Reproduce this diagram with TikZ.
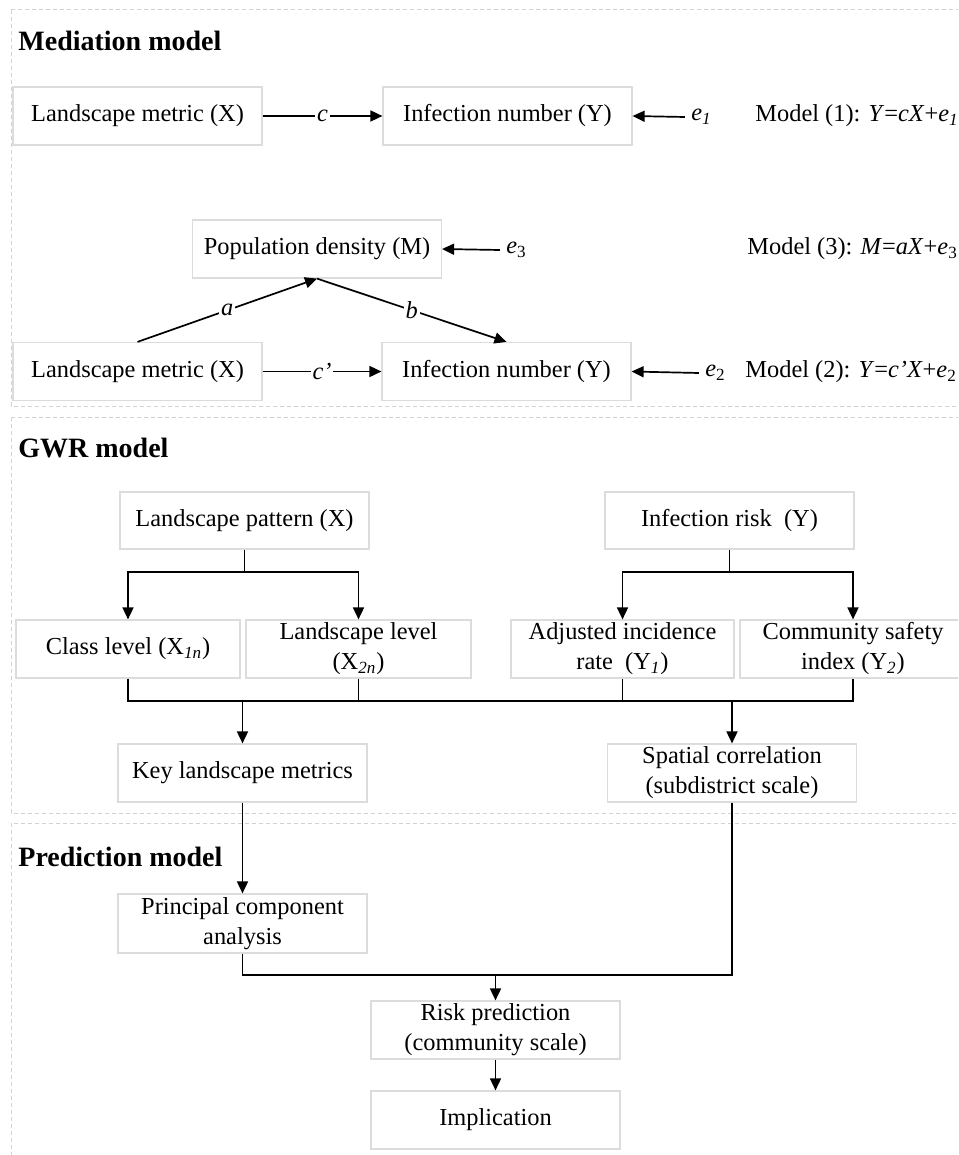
\documentclass[tikz,border=0pt]{standalone}
\usepackage{fontspec}
\setmainfont{Liberation Serif}
\usetikzlibrary{arrows.meta}
\definecolor{boxgray}{HTML}{DCDCDC}
\definecolor{framegray}{HTML}{D2D2D2}
\begin{document}
\begin{tikzpicture}[x=0.5pt,y=-0.5pt,
  txt/.style={font=\fontsize{12.2}{15}\selectfont},
  box/.style={txt,draw=boxgray,line width=0.6pt,align=center,inner sep=0pt,
    minimum width=124.5pt,minimum height=29pt},
  arr/.style={line width=0.85pt,-{Triangle[length=6pt,width=5.5pt]}},
  ln/.style={line width=0.85pt},
  frame/.style={draw=framegray,line width=0.5pt,dash pattern=on 2pt off 1.5pt},
  title/.style={font=\fontsize{14}{16}\selectfont\bfseries,anchor=base west,inner sep=0pt},
  lbl/.style={txt,fill=white,inner sep=1pt,font=\fontsize{12.2}{15}\selectfont\itshape},
  elbl/.style={txt,inner sep=3pt},
  mdl/.style={txt,anchor=west,inner sep=0pt},
  ]
\useasboundingbox (0,0) rectangle (958,1155);
\clip (0,0) rectangle (958,1155);
\fill[white] (0,0) rectangle (958,1155);

% section frames
\draw[frame] (11,10) rectangle (975,406);
\draw[frame] (11,417) rectangle (975,813);
\draw[frame] (11,823) rectangle (975,1175);

% titles
\node[title] (t1) at (18,51) {Mediation model};
\node[title] (t2) at (18,457) {GWR model};
\node[title] (t3) at (18,866) {Prediction model};

% ---------- Mediation ----------
\node[box] (mX1) at (137.5,116) {Landscape metric (X)};
\node[box] (mY1) at (507.5,116) {Infection number (Y)};
\node[elbl] (e1) at (701.5,117) {\textit{e}\textsubscript{\textit{1}}};
\node[mdl] (m1) at (755,116) {Model (1): \textit{Y}=\textit{cX}+\textit{e}\textsubscript{\textit{1}}};
\draw[arr] (mX1) -- node[lbl]{c} (mY1);
\draw[arr] (e1.west) -- (mY1.east);

\node[box] (mM) at (317,249) {Population density (M)};
\node[elbl] (e3) at (516.5,250) {\textit{e}\textsubscript{3}};
\node[mdl] (m3) at (747,249) {Model (3): \textit{M}=\textit{aX}+\textit{e}\textsubscript{3}};
\draw[arr] (e3.west) -- (mM.east);

\node[box] (mX2) at (137.5,371.5) {Landscape metric (X)};
\node[box] (mY2) at (506.5,371.5) {Infection number (Y)};
\node[elbl] (e2) at (715.5,373) {\textit{e}\textsubscript{2}};
\node[mdl] (m2) at (745,372) {Model (2): \textit{Y}=\textit{c’X}+\textit{e}\textsubscript{2}};
\draw[arr] (mX2) -- node[lbl]{c’} (mY2);
\draw[arr] (e2.west) -- (mY2.east);
\draw[arr] (mX2.north) -- node[lbl]{a} (mM.south);
\draw[arr] (mM.south) -- node[lbl]{b} (mY2.north);

% ---------- GWR ----------
\node[box,minimum height=28.5pt] (gX) at (244.5,520.5) {Landscape pattern (X)};
\node[box,minimum height=28.5pt] (gY) at (729.5,520.5) {Infection risk\ \ (Y)};
\node[box,minimum width=112pt] (gC) at (128,649) {Class level (X\textsubscript{\textit{1n}})};
\node[box,minimum width=112.5pt] (gL) at (358.5,649) {Landscape level\\(X\textsubscript{\textit{2n}})};
\node[box,minimum width=111.5pt] (gA) at (622.5,649) {Adjusted incidence\\rate\ \ (Y\textsubscript{\textit{1}})};
\node[box,minimum width=113pt] (gS) at (853,649) {Community safety\\index (Y\textsubscript{\textit{2}})};
\node[box] (gK) at (242.5,773) {Key landscape metrics};
\node[box] (gP) at (732,773) {Spatial correlation\\(subdistrict scale)};

\coordinate (sX) at (244.5,572);
\coordinate (sY) at (729.5,572);
\draw[ln] (gX.south) -- (sX);
\draw[arr] (sX) -| (gC.north);
\draw[arr] (sX) -| (gL.north);
\draw[ln] (gY.south) -- (sY);
\draw[arr] (sY) -| (gA.north);
\draw[arr] (sY) -| (gS.north);

\coordinate (j1) at (242.5,701);
\coordinate (j2) at (732,701);
\draw[ln] (gC.south) -- (gC.south |- j1) -- (gS.south |- j1) -- (gS.south);
\draw[ln] (gL.south) -- (gL.south |- j1);
\draw[ln] (gA.south) -- (gA.south |- j1);
\draw[arr] (j1) -- (gK.north);
\draw[arr] (j2) -- (gP.north);

% ---------- Prediction ----------
\node[box,minimum height=29.5pt] (pP) at (242.5,923.5) {Principal component\\analysis};
\node[box] (pR) at (495.5,1030) {Risk prediction\\(community scale)};
\node[box] (pI) at (495.5,1120) {Implication};

\draw[arr] (gK.south) -- (pP.north);
\coordinate (j3) at (495.5,975);
\draw[ln] (pP.south) |- (j3);
\draw[ln] (gP.south) |- (j3);
\draw[arr] (j3) -- (pR.north);
\draw[arr] (pR.south) -- (pI.north);
\end{tikzpicture}
\end{document}
